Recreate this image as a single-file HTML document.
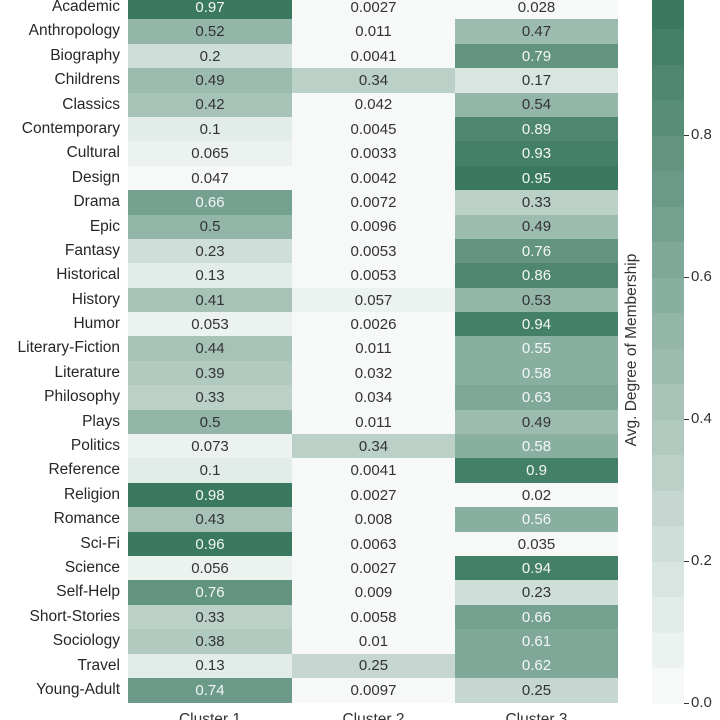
<!DOCTYPE html>
<html style="overflow:hidden;height:720px"><head><meta charset="utf-8"><style>
body{margin:0;width:720px;height:720px;overflow:hidden;background:#fff;font-family:"Liberation Sans",sans-serif;position:relative}
#root{position:absolute;left:0;top:0;width:720px;height:720px;overflow:hidden}
.c{position:absolute;display:flex;align-items:center;justify-content:center;font-size:15px}
.l{position:absolute;right:600px;font-size:15.5px;color:#262626;text-align:right;white-space:nowrap}
.t{position:absolute;font-size:15px;color:#333}
</style></head><body>
<div id="root"></div>
<script>
(function(){
var D=[["Academic",.97,.0027,.028],["Anthropology",.52,.011,.47],["Biography",.2,.0041,.79],["Childrens",.49,.34,.17],["Classics",.42,.042,.54],["Contemporary",.1,.0045,.89],["Cultural",.065,.0033,.93],["Design",.047,.0042,.95],["Drama",.66,.0072,.33],["Epic",.5,.0096,.49],["Fantasy",.23,.0053,.76],["Historical",.13,.0053,.86],["History",.41,.057,.53],["Humor",.053,.0026,.94],["Literary-Fiction",.44,.011,.55],["Literature",.39,.032,.58],["Philosophy",.33,.034,.63],["Plays",.5,.011,.49],["Politics",.073,.34,.58],["Reference",.1,.0041,.9],["Religion",.98,.0027,.02],["Romance",.43,.008,.56],["Sci-Fi",.96,.0063,.035],["Science",.056,.0027,.94],["Self-Help",.76,.009,.23],["Short-Stories",.33,.0058,.66],["Sociology",.38,.01,.61],["Travel",.13,.25,.62],["Young-Adult",.74,.0097,.25]];
function col(v){v=Math.min(1,Math.floor(v*20)/19);var a=[246,249,248],b=[58,121,96];return "rgb("+a.map(function(x,i){return Math.round(x+(b[i]-x)*v);}).join(",")+")";}
var h="",y0=-5,p=24.39,xs=[128,292,455],w=[164,163,163];
D.forEach(function(r,i){var y=y0+i*p;
h+='<div class="l" style="top:'+(y+3)+'px">'+r[0]+'</div>';
for(var j=0;j<3;j++){var v=r[j+1];h+='<div class="c" style="left:'+xs[j]+'px;top:'+y+'px;width:'+w[j]+'px;height:'+(p+0.5)+'px;background:'+col(v)+';color:'+(v>.545?'#f4f7f6':'#333')+'">'+v+'</div>';}});
for(var k=0;k<20;k++){var yy=703-(k+1)*35.5;h+='<div style="position:absolute;left:652px;width:32px;top:'+yy+'px;height:36px;background:'+col(k/20+0.001)+'"></div>';}
[0,.2,.4,.6,.8,1].forEach(function(v){var y=703-v*710;h+='<div style="position:absolute;left:684px;top:'+y+'px;width:5px;height:1px;background:#333"></div><div class="t" style="left:691px;top:'+(y-9)+'px">'+v.toFixed(1)+'</div>';});
h+='<div class="t" style="left:632px;top:350px;transform:translate(-50%,-50%) rotate(-90deg);white-space:nowrap;font-size:15.5px">Avg. Degree of Membership</div>';
["Cluster 1","Cluster 2","Cluster 3"].forEach(function(s,j){h+='<div class="t" style="left:'+xs[j]+'px;width:'+w[j]+'px;text-align:center;top:711px;font-size:15.5px">'+s+'</div>';});
document.getElementById("root").innerHTML=h;
})();
</script>
</body></html>
